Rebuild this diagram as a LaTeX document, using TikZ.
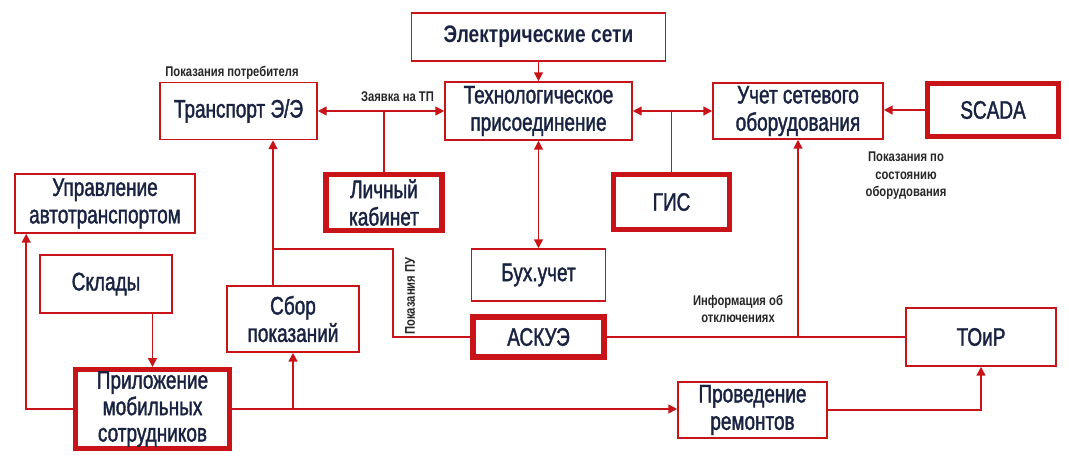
\documentclass[tikz,border=0pt]{standalone}
\usepackage{fontspec}
\setmainfont{Liberation Sans}[FakeStretch=0.8]
\newfontfamily\boxfont{Liberation Sans}[FakeStretch=0.75, FakeBold=1.5]
\usetikzlibrary{arrows.meta}
\definecolor{netred}{RGB}{200,20,25}
\definecolor{navy}{RGB}{25,35,65}

\begin{document}
\begin{tikzpicture}[
        x=0.025cm, y=-0.025cm,
        box/.style={draw=netred, line width=1.1pt, fill=white, text=navy, align=center, inner sep=0pt, font=\boxfont\fontsize{18}{19.5}\selectfont},
        mainbox/.style={box, line width=3.6pt},
        note/.style={text=black!85, align=center, font=\bfseries\fontsize{10}{12.5}\selectfont},
        link/.style={draw=netred, line width=1.1pt},
        arrow/.style={link, -{Triangle[length=2.2mm,width=2.2mm]}},
        twoway/.style={link, {Triangle[length=2.2mm,width=2.2mm]}-{Triangle[length=2.2mm,width=2.2mm]}}
    ]
    \useasboundingbox (0,0) rectangle (1069,461);

    % Upper row
    \node[box, minimum width=6.35cm, minimum height=1.2cm, font=\bfseries\fontsize{17}{19.5}\selectfont] (seti) at (538.5,37) {Электрические сети};
    \node[box, minimum width=4.675cm, minimum height=1.45cm] (tp) at (538.5,111) {Технологическое\\присоединение};
    \node[box, minimum width=3.925cm, minimum height=1.425cm] (transp) at (238.5,111) {Транспорт Э/Э};
    \node[box, minimum width=4.25cm, minimum height=1.4cm] (oborud) at (798,111) {Учет сетевого\\оборудования};
    \node[mainbox, minimum width=3.275cm, minimum height=1.325cm] (scada) at (993,110) {SCADA};

    % Middle row
    \node[mainbox, minimum width=2.9cm, minimum height=1.4cm] (lk) at (384,202.5) {Личный\\кабинет};
    \node[mainbox, minimum width=2.9cm, minimum height=1.375cm] (gis) at (671.5,202) {ГИС};
    \node[box, minimum width=4.5cm, minimum height=1.475cm] (avto) at (105,203.5) {Управление\\автотранспортом};
    \node[box, minimum width=3.3cm, minimum height=1.45cm] (sklad) at (106,284) {Склады};
    \node[box, minimum width=3.3cm, minimum height=1.65cm] (sbor) at (293,319) {Сбор\\показаний};
    \node[box, minimum width=3.35cm, minimum height=1.3cm] (buh) at (538.5,275) {Бух.учет};
    \node[mainbox, minimum width=3.275cm, minimum height=1.0cm] (askue) at (538.5,337) {АСКУЭ};
    \node[box, minimum width=3.75cm, minimum height=1.45cm] (toir) at (981,337) {ТОиР};

    % Lower row
    \node[mainbox, minimum width=3.85cm, minimum height=1.975cm, font=\boxfont\fontsize{18}{18.8}\selectfont] (mob) at (152.5,409) {Приложение\\мобильных\\сотрудников};
    \node[box, minimum width=3.725cm, minimum height=1.4cm] (remont) at (752.5,410) {Проведение\\ремонтов};

    % Labels
    \node[note] (potreb) at (232,73) {Показания потребителя};
    \node[note] (zayavka) at (397.5,97) {Заявка на ТП};
    \node[note] (sost) at (906,176) {Показания по\\состоянию\\оборудования};
    \node[note] (otkl) at (738,309) {Информация об\\отключениях};
    \node[note, rotate=90] (pokpu) at (410,296) {Показания ПУ};

    % Connections
    \coordinate (pu) at (393,249);
    \coordinate (razv) at (273,249);
    \draw[arrow] (seti) -- (tp);
    \draw[twoway] (transp) -- (tp);
    \draw[link] (lk) -- (lk |- transp);
    \draw[twoway] (tp) -- (oborud);
    \draw[link] (gis) -- (gis |- tp);
    \draw[arrow] (scada.west) -- (scada.west -| oborud.east);
    \draw[twoway] (tp) -- (buh);
    \draw[link] (askue) -- (toir);
    \draw[arrow] (oborud |- askue) -- (oborud);
    \draw[link] (askue) -| (pu) -- (razv);
    \draw[arrow] (razv |- sbor.north) -- (razv |- transp.south);
    \draw[arrow] (sklad.south -| mob.north) -- (mob);
    \draw[arrow] (mob) -| ([xshift=0.3cm]avto.south west);
    \draw[arrow] (mob) -- (mob -| remont.west);
    \draw[arrow] (mob -| sbor) -- (sbor);
    \draw[arrow] (remont) -| (toir);
\end{tikzpicture}
\end{document}
